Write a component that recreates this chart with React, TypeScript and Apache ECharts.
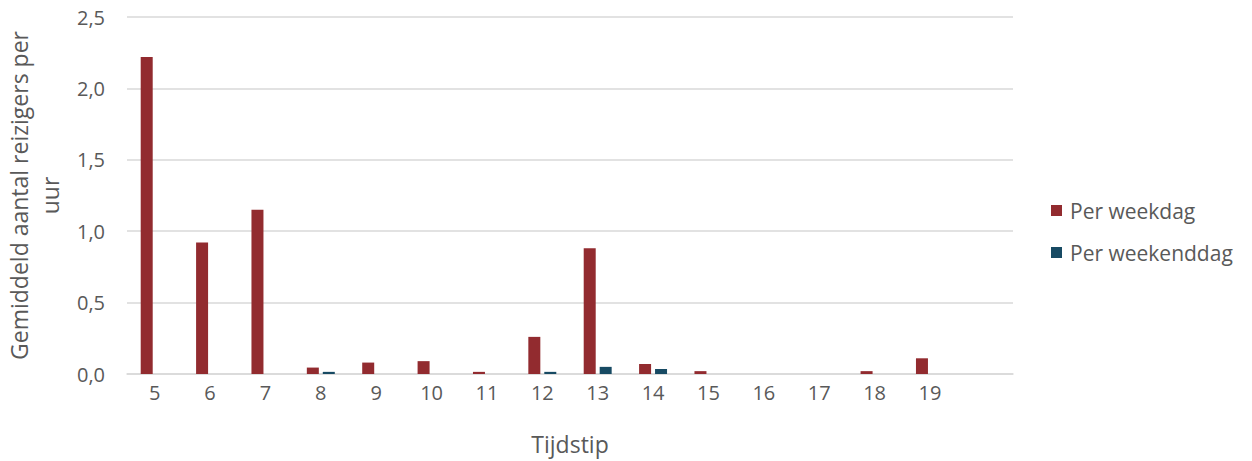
import React, { useEffect, useRef } from "react";
import * as echarts from "echarts";

const categories = ["5", "6", "7", "8", "9", "10", "11", "12", "13", "14", "15", "16", "17", "18", "19", ""];
const weekdag = [2.22, 0.92, 1.15, 0.045, 0.08, 0.09, 0.015, 0.26, 0.88, 0.07, 0.02, 0, 0, 0.02, 0.11, null];
const weekenddag = [0, 0, 0, 0.015, 0, 0, 0, 0.015, 0.05, 0.035, 0, 0, 0, 0, 0, null];
const yTicks = { min: 0, max: 2.5, interval: 0.5 };

const FONT = "'Open Sans', 'Noto Sans', sans-serif";
const GREY = "#595959";

export default function App() {
  const ref = useRef<HTMLDivElement>(null);
  useEffect(() => {
    if (!ref.current) return;
    const chart = echarts.init(ref.current, null, { renderer: "svg" });
    chart.setOption({
      animation: false,
      textStyle: { fontFamily: FONT, color: GREY },
      grid: { left: 127, right: 239, top: 17, bottom: 87, containLabel: false, outerBoundsMode: "none" },
      legend: {
        orient: "vertical",
        left: 1046,
        top: 195,
        icon: "rect",
        itemWidth: 11,
        itemHeight: 11,
        itemGap: 21,
        textStyle: { fontFamily: FONT, fontSize: 21, color: GREY, padding: [0, 0, 0, 3] },
        data: ["Per weekdag", "Per weekenddag"],
      },
      xAxis: {
        type: "category",
        data: categories,
        name: "Tijdstip",
        nameLocation: "middle",
        nameGap: 58,
        nameTextStyle: { fontFamily: FONT, fontSize: 23, color: GREY },
        axisLine: { show: true, lineStyle: { color: "#d9d9d9", width: 1.5 } },
        axisTick: { show: false },
        axisLabel: { fontFamily: FONT, fontSize: 20, color: GREY, margin: 8, interval: 0 },
      },
      yAxis: {
        type: "value",
        min: yTicks.min,
        max: yTicks.max,
        interval: yTicks.interval,
        name: "Gemiddeld aantal reizigers per\nuur",
        nameLocation: "middle",
        nameRotate: 90,
        nameGap: 62,
        nameTextStyle: { fontFamily: FONT, fontSize: 23, color: GREY, lineHeight: 31 },
        axisLine: { show: false },
        axisTick: { show: false },
        splitLine: { lineStyle: { color: "#d9d9d9", width: 1.5 } },
        axisLabel: {
          fontFamily: FONT,
          fontSize: 20,
          color: GREY,
          margin: 22,
          formatter: (v: number) => v.toFixed(1).replace(".", ","),
        },
      },
      series: [
        {
          name: "Per weekdag",
          type: "bar",
          data: weekdag,
          barWidth: 12,
          barGap: "33%",
          itemStyle: { color: "#922b2f" },
        },
        {
          name: "Per weekenddag",
          type: "bar",
          data: weekenddag,
          barWidth: 12,
          itemStyle: { color: "#174a63" },
        },
      ],
    });
    return () => chart.dispose();
  }, []);
  return <div ref={ref} style={{ position: "absolute", left: 0, top: 0, width: 1252, height: 461 }} />;
}
